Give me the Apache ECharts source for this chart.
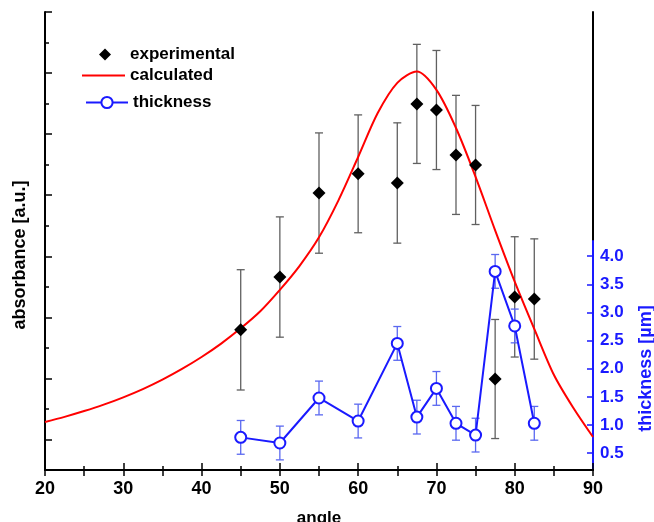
<!DOCTYPE html>
<html>
<head>
<meta charset="utf-8">
<script src="https://cdn.jsdelivr.net/npm/echarts@6/dist/echarts.min.js"></script>
<style>
html,body{margin:0;padding:0;background:#fff;}
#c{width:654px;height:522px;}
</style>
</head>
<body>
<div id="c"></div>
<script>
// ---- data ----
const angles = [45, 50, 55, 60, 65, 67.5, 70, 72.5, 75, 77.5, 80, 82.5];
const absorbance = [4.59, 6.32, 9.07, 9.70, 9.40, 11.99, 11.79, 10.32, 9.99, 2.98, 5.67, 5.60];
const absorbanceErr = [1.97, 1.97, 1.97, 1.93, 1.97, 1.95, 1.95, 1.95, 1.95, 1.95, 1.97, 1.97];
const thickness = [0.78, 0.68, 1.48, 1.07, 2.45, 1.14, 1.65, 1.03, 0.82, 3.73, 2.76, 1.03];
const thicknessErr = [0.3, 0.3, 0.3, 0.3, 0.3, 0.3, 0.3, 0.3, 0.3, 0.3, 0.3, 0.3];
const calcAngles = [20, 22.5, 25, 27.5, 30, 32.5, 35, 37.5, 40, 42.5, 45, 47.5, 50, 52.5, 55, 57.5, 60, 62.5, 65, 67.5, 70, 72.5, 75, 77.5, 80, 82.5, 85, 87.5, 90];
const calcAbsorbance = [1.57, 1.74, 1.93, 2.14, 2.38, 2.65, 2.96, 3.31, 3.70, 4.14, 4.64, 5.20, 5.90, 6.68, 7.62, 8.84, 10.25, 11.69, 12.68, 13.05, 12.45, 11.2, 9.6, 7.85, 6.17, 4.62, 3.12, 2.03, 1.08];
const thicknessTicks = [0.5, 1.0, 1.5, 2.0, 2.5, 3.0, 3.5, 4.0];
const absorbanceMajorTicks = [1, 3, 5, 7, 9, 11, 13, 15];

const FONT = 'Liberation Sans, Arial, sans-serif';
const BLUE = '#1a1aff';
const BLUE_ERR = '#5a68f0';
const ERR_GREY = '#606060';

function errBars(color) {
  return function (params, api) {
    const x = api.value(0), lo = api.value(1), hi = api.value(2);
    const a = api.coord([x, lo]), b = api.coord([x, hi]);
    const cap = 4;
    const st = { stroke: color, lineWidth: 1.3 };
    return {
      type: 'group',
      children: [
        { type: 'line', shape: { x1: a[0], y1: a[1], x2: b[0], y2: b[1] }, style: st },
        { type: 'line', shape: { x1: a[0] - cap, y1: a[1], x2: a[0] + cap, y2: a[1] }, style: st },
        { type: 'line', shape: { x1: b[0] - cap, y1: b[1], x2: b[0] + cap, y2: b[1] }, style: st }
      ]
    };
  };
}

const expPts = angles.map((a, i) => [a, absorbance[i]]);
const expErr = angles.map((a, i) => [a, absorbance[i] - absorbanceErr[i], absorbance[i] + absorbanceErr[i]]);
const thkPts = angles.map((a, i) => [a, thickness[i]]);
const thkErr = angles.map((a, i) => [a, thickness[i] - thicknessErr[i], thickness[i] + thicknessErr[i]]);
const calcPts = calcAngles.map((a, i) => [a, calcAbsorbance[i]]);

const chart = echarts.init(document.getElementById('c'), null, { renderer: 'canvas' });
const legendText = { fontFamily: FONT, fontWeight: 'bold', fontSize: 17, color: '#000' };

chart.setOption({
  animation: false,
  backgroundColor: '#fff',
  grid: [
    { left: 45, right: 61, top: 12, bottom: 52, outerBoundsMode: 'none', containLabel: false },
    { left: 45, right: 61, top: 241, bottom: 52, outerBoundsMode: 'none', containLabel: false }
  ],
  legend: [
    { data: [{ name: 'experimental', icon: 'diamond' }], left: 99, top: 46, padding: 0, itemWidth: 12, itemHeight: 12,
      textStyle: Object.assign({}, legendText, { padding: [0, 0, 0, 14] }), itemGap: 0 },
    { data: [{ name: 'calculated', icon: 'rect' }], left: 82, top: 67, padding: 0, itemWidth: 43, itemHeight: 2,
      textStyle: legendText, itemGap: 0 },
    { data: ['thickness'], left: 85, top: 94, padding: 0, itemWidth: 42, itemHeight: 14, textStyle: legendText, itemGap: 0 }
  ],
  xAxis: [
    {
      gridIndex: 0, type: 'value', position: 'bottom', min: 20, max: 90, interval: 10,
      name: 'angle', nameLocation: 'middle', nameGap: 40,
      nameTextStyle: { fontFamily: FONT, fontWeight: 'bold', fontSize: 17, color: '#000' },
      axisLine: { lineStyle: { color: '#000', width: 2 } },
      axisTick: { inside: true, length: 7, lineStyle: { color: '#000', width: 1.5 } },
      minorTick: { show: true, splitNumber: 2, length: 4, lineStyle: { color: '#000', width: 1.5 } },
      axisLabel: { margin: 10, fontFamily: FONT, fontWeight: 'bold', fontSize: 18, color: '#000' },
      splitLine: { show: false }
    },
    {
      gridIndex: 0, type: 'value', position: 'top', min: 20, max: 90, interval: 5,
      axisLine: { lineStyle: { color: '#000', width: 2 } },
      axisTick: { inside: true, length: 6, lineStyle: { color: '#000', width: 1.5 } },
      axisLabel: { show: false }, splitLine: { show: false }
    },
    {
      gridIndex: 1, type: 'value', min: 20, max: 90, show: false
    }
  ],
  yAxis: [
    {
      gridIndex: 0, type: 'value', position: 'left', min: 0, max: 15,
      name: 'absorbance [a.u.]', nameLocation: 'middle', nameGap: 16, nameRotate: 90,
      nameTextStyle: { fontFamily: FONT, fontWeight: 'bold', fontSize: 18, color: '#000', padding: [0, 28, 0, 0] },
      axisLine: { lineStyle: { color: '#000', width: 2 } },
      axisTick: { inside: true, length: 7, customValues: absorbanceMajorTicks, lineStyle: { color: '#000', width: 1.5 } },
      axisLabel: { show: false }, splitLine: { show: false }
    },
    {
      gridIndex: 0, type: 'value', position: 'left', min: 0, max: 15, interval: 1,
      axisLine: { show: false },
      axisTick: { inside: true, length: 4, lineStyle: { color: '#000', width: 1.5 } },
      axisLabel: { show: false }, splitLine: { show: false }
    },
    {
      gridIndex: 0, type: 'value', position: 'right', min: 0, max: 15,
      axisLine: { show: true, lineStyle: { color: '#000', width: 2 } },
      axisTick: { show: false }, axisLabel: { show: false }, splitLine: { show: false }
    },
    {
      gridIndex: 1, type: 'value', position: 'right', min: 0.2, max: 4.27,
      name: 'thickness [\u00b5m]', nameLocation: 'middle', nameGap: 44, nameRotate: 90,
      nameTextStyle: { fontFamily: FONT, fontWeight: 'bold', fontSize: 18, color: BLUE, padding: [0, 26, 0, 0] },
      axisLine: { show: true, lineStyle: { color: BLUE, width: 2 } },
      axisTick: { inside: true, length: 6, customValues: thicknessTicks, lineStyle: { color: BLUE, width: 1.5 } },
      axisLabel: {
        customValues: thicknessTicks, margin: 7, fontFamily: FONT, fontWeight: 'bold', fontSize: 17, color: BLUE,
        formatter: v => Number(v).toFixed(1)
      },
      splitLine: { show: false }
    }
  ],
  series: [
    {
      name: 'calculated', type: 'line', xAxisIndex: 0, yAxisIndex: 0, data: calcPts,
      smooth: 0.3, symbol: 'none', lineStyle: { color: '#ff0000', width: 2 }, itemStyle: { color: '#ff0000' }, z: 3
    },
    {
      name: 'expErr', type: 'custom', xAxisIndex: 0, yAxisIndex: 0, data: expErr,
      encode: { x: 0, y: [1, 2] }, renderItem: errBars(ERR_GREY), z: 2
    },
    {
      name: 'experimental', type: 'scatter', xAxisIndex: 0, yAxisIndex: 0, data: expPts,
      symbol: 'diamond', symbolSize: 13, itemStyle: { color: '#000', opacity: 1 }, z: 5
    },
    {
      name: 'thkErr', type: 'custom', xAxisIndex: 2, yAxisIndex: 3, data: thkErr,
      encode: { x: 0, y: [1, 2] }, renderItem: errBars(BLUE_ERR), z: 2
    },
    {
      name: 'thickness', type: 'line', xAxisIndex: 2, yAxisIndex: 3, data: thkPts,
      symbol: 'emptyCircle', symbolSize: 11, showAllSymbol: true,
      lineStyle: { color: BLUE, width: 2 }, itemStyle: { color: BLUE, borderColor: BLUE, borderWidth: 1.3 }, z: 4
    }
  ]
});
</script>
</body>
</html>
